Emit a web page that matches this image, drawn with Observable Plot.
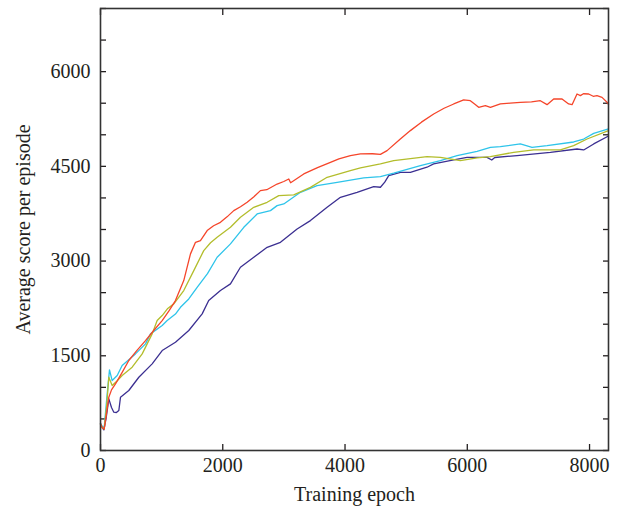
<!DOCTYPE html>
<html>
<head>
<meta charset="utf-8">
<script src="https://cdn.jsdelivr.net/npm/d3@7"></script>
<script src="https://cdn.jsdelivr.net/npm/@observablehq/plot@0.6"></script>
<style>
  html, body { margin: 0; padding: 0; background: #fff; }
  #chart svg { display: block; }
</style>
</head>
<body>
<div id="chart"></div>
<script>
// Series: red
const redEpoch = [0,30,60,100,136,180,245,350,463,600,736,870,1009,1120,1226,1362,1472,1554,1635,1745,1850,1962,2070,2180,2290,2399,2510,2616,2720,2889,2998,3080,3110,3325,3550,3761,3900,4088,4252,4450,4579,4688,4900,5069,5250,5450,5620,5778,5941,6050,6130,6186,6296,6378,6541,6700,6868,7050,7195,7305,7413,7550,7658,7714,7795,7850,7900,7986,8060,8122,8204,8286,8310];
const redScore = [420,360,340,600,844,960,1055,1230,1425,1590,1741,1900,2058,2210,2375,2691,3114,3297,3324,3483,3560,3614,3700,3799,3860,3931,4020,4116,4130,4220,4260,4300,4240,4380,4480,4564,4620,4670,4697,4700,4690,4749,4930,5066,5200,5330,5420,5488,5552,5540,5480,5435,5461,5435,5488,5500,5514,5520,5540,5477,5567,5567,5488,5477,5646,5620,5650,5646,5610,5620,5593,5514,5480];
// Series: yellow-green
const yelEpoch = [0,30,60,100,136,191,270,354,518,682,845,927,1009,1100,1199,1362,1526,1689,1800,1908,2126,2289,2507,2726,2916,3161,3434,3707,4088,4252,4579,4797,5341,5560,5887,6160,6378,6759,7086,7522,7740,7959,8310];
const yelScore = [420,360,340,700,1160,1029,1100,1187,1319,1530,1847,2058,2137,2250,2322,2533,2849,3166,3290,3377,3535,3693,3851,3931,4037,4047,4168,4327,4432,4475,4538,4591,4654,4643,4591,4633,4654,4723,4760,4760,4828,4933,5066];
// Series: cyan
const cyaEpoch = [0,30,60,100,147,191,273,354,572,736,818,1009,1091,1226,1308,1444,1581,1750,1908,2126,2344,2562,2780,2889,2998,3271,3543,3871,4306,4579,4797,5233,5560,5833,6160,6378,6541,6868,7059,7305,7740,7904,8068,8310];
const cyaScore = [420,380,360,800,1277,1108,1187,1346,1530,1689,1847,1979,2058,2160,2268,2400,2585,2800,3060,3272,3535,3746,3799,3878,3905,4089,4195,4247,4316,4337,4391,4512,4591,4670,4739,4802,4812,4855,4802,4828,4886,4933,5023,5092];
// Series: dark blue
const bluEpoch = [0,30,55,90,136,180,218,260,300,327,463,627,845,1009,1226,1444,1663,1770,1962,2126,2289,2507,2726,2944,3216,3434,3707,3925,4197,4469,4579,4650,4715,4906,5069,5341,5450,5778,5996,6323,6400,6450,6813,7359,7795,7904,8068,8310];
const bluScore = [430,360,327,500,818,680,607,600,633,844,950,1160,1372,1583,1715,1900,2164,2375,2533,2639,2902,3060,3218,3297,3509,3641,3851,4010,4089,4179,4169,4250,4353,4406,4406,4486,4538,4601,4643,4643,4600,4640,4670,4723,4775,4760,4855,4980];

const xTicks = [0, 2000, 4000, 6000, 8000];
const yTicks = [0, 1500, 3000, 4500, 6000];
const yMinorTicks = [0, 500, 1000, 1500, 2000, 2500, 3000, 3500, 4000, 4500, 5000, 5500, 6000, 6500, 7000];

const series = [
  {name: "dark blue", epoch: bluEpoch, score: bluScore, color: "#3b2f91"},
  {name: "cyan", epoch: cyaEpoch, score: cyaScore, color: "#2ec4ea"},
  {name: "yellow", epoch: yelEpoch, score: yelScore, color: "#b3bd2c"},
  {name: "red", epoch: redEpoch, score: redScore, color: "#f5452a"}
];
const rows = series.flatMap(s => s.epoch.map((e, i) => ({series: s.name, epoch: e, score: s.score[i]})));

const font = "'Liberation Serif', 'DejaVu Serif', serif";
const fmt = d => String(d);
const chart = Plot.plot({
  width: 621,
  height: 512,
  marginLeft: 100,
  marginRight: 13,
  marginTop: 8,
  marginBottom: 62,
  style: {fontFamily: font, fontSize: "20px", color: "#231f20", background: "#fff"},
  x: {domain: [0, 8310]},
  y: {domain: [0, 7000]},
  color: {domain: series.map(s => s.name), range: series.map(s => s.color)},
  marks: [
    Plot.axisX(xTicks, {anchor: "bottom", tickSize: 0, tickPadding: 7, tickFormat: fmt, label: "Training epoch", labelAnchor: "center", labelArrow: "none", labelOffset: 50, fontSize: 20}),
    Plot.axisX(xTicks, {anchor: "bottom", tickSize: -6, tickFormat: () => "", label: null, strokeWidth: 1.3}),
    Plot.axisX(xTicks, {anchor: "top", tickSize: -6, tickFormat: () => "", label: null, strokeWidth: 1.3}),
    Plot.axisY(yTicks, {anchor: "left", tickSize: 0, tickPadding: 10, tickFormat: fmt, label: "Average score per episode", labelAnchor: "center", labelOffset: 85, labelArrow: "none", fontSize: 20}),
    Plot.axisY(yMinorTicks, {anchor: "left", tickSize: -6, tickFormat: () => "", label: null, strokeWidth: 1.3}),
    Plot.axisY(yMinorTicks, {anchor: "right", tickSize: -6, tickFormat: () => "", label: null, strokeWidth: 1.3}),
    Plot.line(rows, {x: "epoch", y: "score", z: "series", stroke: "series", strokeWidth: 1.3}),
    Plot.frame({stroke: "#333", strokeWidth: 1.6})
  ]
});
document.getElementById("chart").appendChild(chart);
</script>
</body>
</html>
